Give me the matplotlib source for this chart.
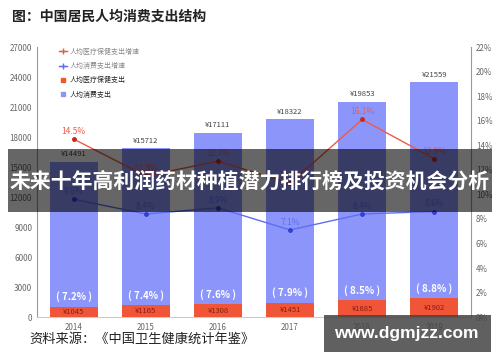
import matplotlib
matplotlib.use("Agg")
import matplotlib.pyplot as plt
from matplotlib.lines import Line2D
from matplotlib.patches import Rectangle

plt.rcParams['font.family'] = ['Noto Sans CJK SC', 'DejaVu Sans']

# ---- data ----
years = ["2014", "2015", "2016", "2017", "2018", "2019"]
consume = [14491, 15712, 17111, 18322, 19853, 21559]        # 人均消费支出
medical = [1045, 1165, 1308, 1451, 1685, 1902]              # 人均医疗保健支出
ratio = [7.2, 7.4, 7.6, 7.9, 8.5, 8.8]                      # 医疗占比 %
medical_growth = [14.5, 11.5, 12.7, 10.9, 16.1, 12.9]       # 人均医疗保健支出增速 %
consume_growth = [9.6, 8.4, 8.9, 7.1, 8.4, 8.6]             # 人均消费支出增速 %
left_ticks = [0, 3000, 6000, 9000, 12000, 15000, 18000, 21000, 24000, 27000]
right_ticks = [0, 2, 4, 6, 8, 10, 12, 14, 16, 18, 20, 22]

BLUE = "#8c96fa"
RED = "#f05537"
LINE_RED = "#ee5a48"
LINE_BLUE = "#5f6ef0"

fig = plt.figure(figsize=(5, 3.62), dpi=100)
ax = fig.add_axes([0.074, 0.124, 0.868, 0.746])
x = range(len(years))

# stacked: medical at the bottom, consumption on top of it
ax.bar(x, medical, width=0.67, color=RED, zorder=3)
ax.bar(x, consume, bottom=medical, width=0.67, color=BLUE, zorder=2)

for i in x:
    top = medical[i] + consume[i]
    ax.text(i, top + 350, f"¥{consume[i]}", ha="center", va="bottom",
            fontsize=5.5, color="#444444")
    ax.text(i, medical[i] / 2, f"¥{medical[i]}", ha="center", va="center",
            fontsize=5.5, color="#8a1e10", zorder=4)
    ax.text(i, medical[i] + 450, f"( {ratio[i]}% )", ha="center", va="bottom",
            fontsize=7, color="white", fontweight="bold", zorder=4)

ax.set_xlim(-0.51, 5.51)
ax.set_ylim(0, 27000)
ax.set_yticks(left_ticks)
ax.set_xticks(list(x))
ax.set_xticklabels(years)
ax.tick_params(axis="both", labelsize=5.8, colors="#666666", length=0)
ax.tick_params(axis="x", pad=4)
for s in ["top", "right"]:
    ax.spines[s].set_visible(False)
ax.spines["left"].set_color("#999999")
ax.spines["bottom"].set_color("#cccccc")

ax2 = ax.twinx()
ax2.plot(x, medical_growth, color=LINE_RED, lw=1, marker="o", ms=2.5,
         mfc="#c8281a", mec="#c8281a", zorder=5)
ax2.plot(x, consume_growth, color=LINE_BLUE, lw=1, marker="o", ms=2.5,
         mfc="#3040d0", mec="#3040d0", zorder=5)
for i in x:
    ax2.text(i, medical_growth[i] + 0.25, f"{medical_growth[i]}%", ha="center",
             va="bottom", fontsize=6, color=LINE_RED)
    ax2.text(i, consume_growth[i] + 0.25, f"{consume_growth[i]}%", ha="center",
             va="bottom", fontsize=6, color=LINE_BLUE)
ax2.set_ylim(0, 22)
ax2.set_yticks(right_ticks)
ax2.set_yticklabels([f"{t}%" for t in right_ticks])
ax2.tick_params(axis="y", labelsize=5.8, colors="#666666", length=0)
for s in ["top", "left", "bottom"]:
    ax2.spines[s].set_visible(False)
ax2.spines["right"].set_color("#999999")

# legend
handles = [
    Line2D([], [], color=LINE_RED, lw=1, marker="+", ms=5),
    Line2D([], [], color=LINE_BLUE, lw=1, marker="+", ms=5),
    Line2D([], [], color=RED, lw=0, marker="s", ms=3),
    Line2D([], [], color=BLUE, lw=0, marker="s", ms=3),
]
labels = ["人均医疗保健支出增速", "人均消费支出增速", "人均医疗保健支出", "人均消费支出"]
leg = fig.legend(handles, labels, loc="upper left", bbox_to_anchor=(0.105, 0.885),
                 frameon=False, fontsize=5, handlelength=1.2, handletextpad=0.4,
                 labelspacing=0.9)
for t, c in zip(leg.get_texts(), ["#888888", "#888888", "#222222", "#222222"]):
    t.set_color(c)

# title and source
fig.text(0.024, 0.953, "图：中国居民人均消费支出结构", fontsize=10, fontweight="bold",
         color="#222222", va="center")
fig.text(0.058, 0.062, "资料来源：《中国卫生健康统计年鉴》", fontsize=9.5,
         color="#222222", va="center")

# overlay banner
fig.patches.append(Rectangle((0.016, 0.414), 0.968, 0.174, transform=fig.transFigure,
                             facecolor="black", alpha=0.6, zorder=10))
fig.text(0.5, 0.5, "未来十年高利润药材种植潜力排行榜及投资机会分析", fontsize=15,
         fontweight="bold", color="white", ha="center", va="center", zorder=11)

# watermark
fig.patches.append(Rectangle((0.648, 0.028), 0.334, 0.102, transform=fig.transFigure,
                             facecolor="#444444", alpha=0.85, zorder=10))
fig.text(0.813, 0.079, "www.dgmjzz.com", fontsize=12.5, fontweight="bold",
         color="white", ha="center", va="center", zorder=11,
         family=["Liberation Sans", "DejaVu Sans"])

fig.savefig("out.png", dpi=100)
